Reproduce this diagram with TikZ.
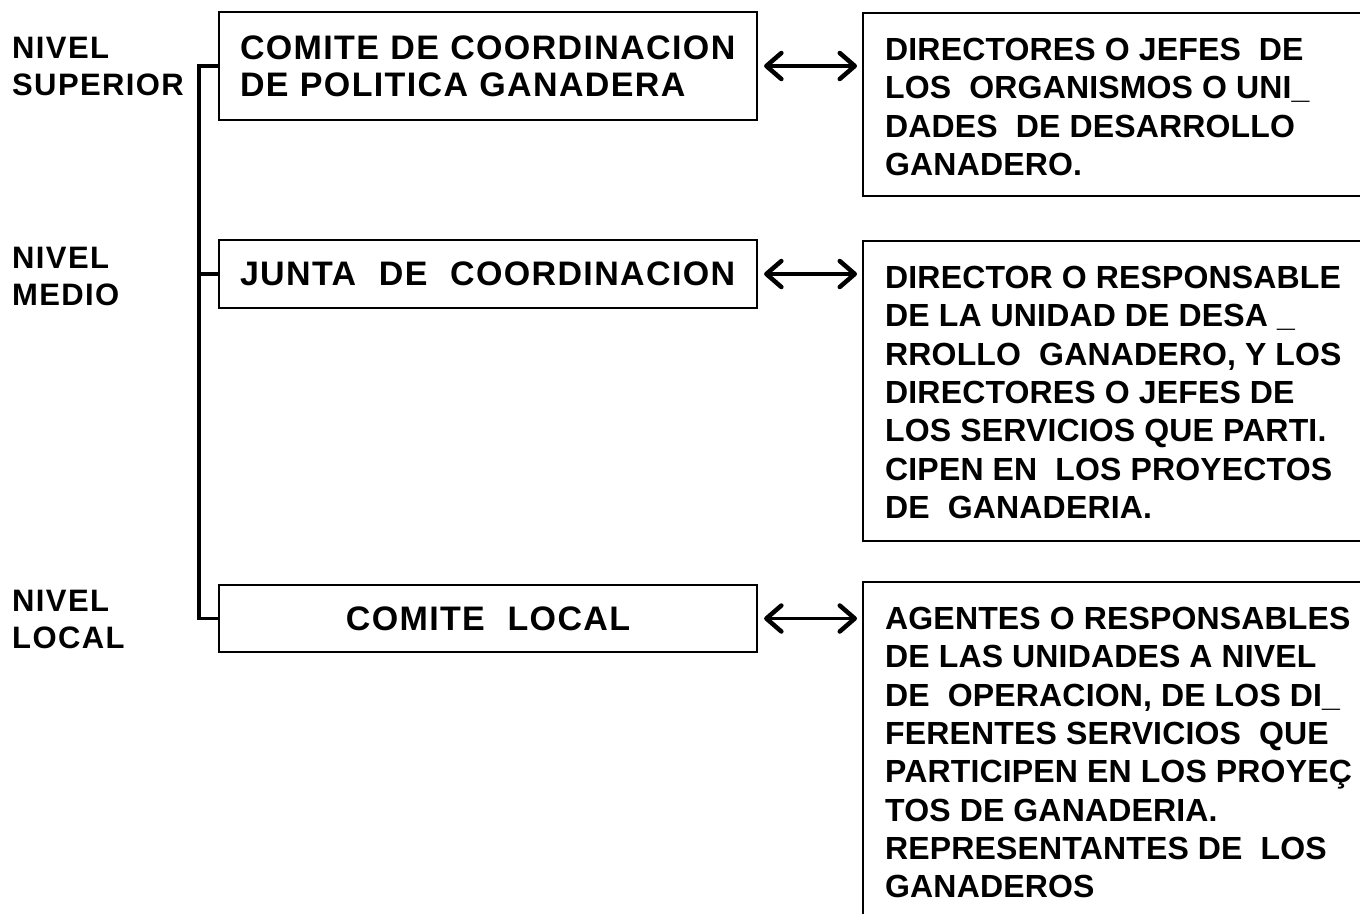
\documentclass[tikz,border=0pt]{standalone}
\usepackage{fontspec}
\setmainfont{Liberation Sans}
\usetikzlibrary{arrows.meta,positioning}
\newcommand\labelfont{\fontsize{31}{36.5}\selectfont\bfseries\addfontfeature{LetterSpace=4.5}}
\newcommand\boxfont{\fontsize{34}{37}\selectfont\bfseries\addfontfeature{LetterSpace=4}}
\newcommand\infofont{\fontsize{32}{38.3}\selectfont\bfseries\addfontfeature{LetterSpace=0.5}}
\tikzset{
  lvlbox/.style={draw, line width=2.2pt, minimum width=538pt, inner xsep=21pt, text width=496pt, align=left, font=\boxfont},
  lvllabel/.style={anchor=north west, inner sep=0pt, align=left, font=\labelfont},
  infobox/.style={draw, line width=2.2pt, anchor=north west, minimum width=540pt},
  infotext/.style={anchor=north west, inner sep=0pt, align=left, font=\infofont},
  bracket/.style={line width=3.5pt},
  barb/.tip={Straight Barb[length=15pt, width=26pt, line width=4.5pt, round]},
  link/.style={line width=3.5pt, {barb}-{barb}, shorten <=6pt, shorten >=5pt}
}
\begin{document}
\begin{tikzpicture}[x=1pt, y=-1pt]
  \useasboundingbox (0,0) rectangle (1360,913);

  % niveles
  \node[lvllabel] (sup) at (12,37) {NIVEL\\SUPERIOR};
  \node[lvllabel] (med) at (12,247) {NIVEL\\MEDIO};
  \node[lvllabel] (loc) at (12,590) {NIVEL\\LOCAL};

  % organos de coordinacion
  \node[lvlbox, minimum height=108pt] (comite) at (488,66)
    {COMITE DE COORDINACION\\DE POLITICA GANADERA};
  \node[lvlbox, minimum height=68pt] (junta) at (488,274) {JUNTA \ DE \ COORDINACION};
  \node[lvlbox, minimum height=67pt, align=center] (local) at (488,618.5) {COMITE \ LOCAL};

  \draw[bracket] (comite.west) -- ++(-19,0) |- (local.west);
  \draw[bracket] (junta.west) -- ++(-19,0);

  % integrantes
  \node[infobox, minimum height=183pt] (dir) at (862,12) {};
  \node[infobox, minimum height=300pt] (resp) at (862,240) {};
  \node[infobox, minimum height=400pt] (agen) at (862,581) {};

  \node[infotext] (dirtxt) at ([xshift=23pt, yshift=-26pt]dir.north west)
    {DIRECTORES O JEFES \ DE\\LOS \ ORGANISMOS O UNI\_\\DADES \ DE DESARROLLO\\GANADERO.};
  \node[infotext] (resptxt) at ([xshift=23pt, yshift=-26pt]resp.north west)
    {DIRECTOR O RESPONSABLE\\DE LA UNIDAD DE DESA \_\\RROLLO \ GANADERO, Y LOS\\DIRECTORES O JEFES DE\\LOS SERVICIOS QUE PARTI.\\CIPEN EN \ LOS PROYECTOS\\DE \ GANADERIA.};
  \node[infotext] (agentxt) at ([xshift=23pt, yshift=-26pt]agen.north west)
    {AGENTES O RESPONSABLES\\DE LAS UNIDADES A NIVEL\\DE \ OPERACION, DE LOS DI\_\\FERENTES SERVICIOS \ QUE\\PARTICIPEN EN LOS PROYEÇ\\TOS DE GANADERIA.\\REPRESENTANTES DE \ LOS\\GANADEROS};

  \draw[link] (comite.east) -- (comite.east -| dir.west);
  \draw[link] (junta.east) -- (junta.east -| resp.west);
  \draw[link] (local.east) -- (local.east -| agen.west);
\end{tikzpicture}
\end{document}
